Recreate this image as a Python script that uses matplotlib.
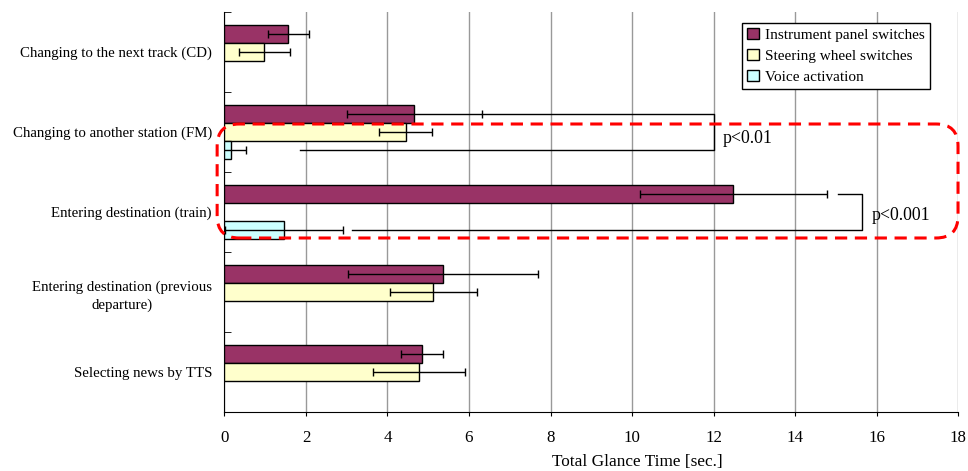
import numpy as np
import matplotlib
matplotlib.use("Agg")
import matplotlib.pyplot as plt
from matplotlib.patches import FancyBboxPatch
from matplotlib.ticker import FixedLocator

plt.rcParams['font.family'] = ['Liberation Serif', 'DejaVu Serif']

# total glance time per task (seconds), mean and error
categories = ["Changing to the next track (CD)",
              "Changing to another station (FM)",
              "Entering destination (train)",
              "Entering destination (previous\ndeparture)",
              "Selecting news by TTS"]
instrument = [1.57, 4.66, 12.49, 5.37, 4.84]
instrument_err = [0.50, 1.65, 2.29, 2.33, 0.51]
steering = [0.98, 4.45, np.nan, 5.12, 4.78]
steering_err = [0.63, 0.65, np.nan, 1.07, 1.13]
voice = [np.nan, 0.16, 1.46, np.nan, np.nan]
voice_err = [np.nan, 0.36, 1.45, np.nan, np.nan]
xticks = [0, 2, 4, 6, 8, 10, 12, 14, 16, 18]

# significance brackets: category, top start, bottom start, bracket x, label, label shift
brackets = [(1, 6.31, 1.86, 12.0, "p<0.01", -0.08),
            (2, 15.06, 3.13, 15.65, "p<0.001", -0.05)]

series = [("Instrument panel switches", instrument, instrument_err, "#993366", 0.225),
          ("Steering wheel switches", steering, steering_err, "#FFFFCC", 0.0),
          ("Voice activation", voice, voice_err, "#CCFFFF", -0.225)]

fig = plt.figure(figsize=(9.68, 4.71), dpi=100)
ax = fig.add_axes([0.2319, 0.1253, 0.7578, 0.8492])

n = len(categories)
ypos = np.arange(n)[::-1].astype(float)   # first category on top
h = 0.225

for label, vals, errs, col, off in series:
    vals = np.array(vals, dtype=float)
    errs = np.array(errs, dtype=float)
    m = ~np.isnan(vals)
    ax.barh(ypos[m] + off, vals[m], height=h, color=col, edgecolor='black',
            linewidth=1, label=label, zorder=3)
    ax.errorbar(vals[m], ypos[m] + off, xerr=errs[m], fmt='none', ecolor='black',
                elinewidth=1, capsize=3, capthick=1, zorder=4)

off_top, off_bot = 0.225, -0.225
for ci, x_top, x_bot, x_br, txt, dy in brackets:
    yt = ypos[ci] + off_top
    yb = ypos[ci] + off_bot
    ax.plot([x_top, x_br, x_br, x_bot], [yt, yt, yb, yb], color='black',
            linewidth=1, zorder=4, clip_on=False)
    ax.text(x_br + 0.23, (yt + yb) / 2 + dy, txt, fontsize=12.8, va='center', ha='left')

ax.set_xlim(0, 18)
ax.set_ylim(-0.5, n - 0.5)
ax.set_xticks(xticks)
ax.set_xticklabels([str(t) for t in xticks], fontsize=12.2)
ax.tick_params(axis='x', direction='out', length=3, pad=10)
ax.set_yticks(ypos)
ax.set_yticklabels(categories, fontsize=10.7, multialignment='center', linespacing=1.5)
ax.tick_params(axis='y', which='major', length=0, pad=9)
ax.yaxis.set_minor_locator(FixedLocator(np.arange(-0.5, n, 1.0)))
ax.tick_params(axis='y', which='minor', direction='in', length=5)
ax.set_xlabel("Total Glance Time [sec.]", fontsize=12.4, va='center')
ax.xaxis.set_label_coords(0.563, -0.125)

ax.grid(axis='x', color='#999999', linewidth=1, zorder=0)
ax.set_axisbelow(True)
for s in ['top', 'right']:
    ax.spines[s].set_visible(False)

leg = ax.legend(loc='upper right', bbox_to_anchor=(0.962, 0.973), fontsize=11,
                frameon=True, fancybox=False, framealpha=1, edgecolor='black',
                handlelength=0.75, handleheight=0.75, handletextpad=0.4,
                labelspacing=0.45, borderpad=0.35, borderaxespad=0)
leg.get_frame().set_linewidth(1)

# dashed rounded frame around the two significant tasks
fig.canvas.draw()
x0, y0 = ax.transData.transform((-0.18, 1.675))
x1, y1 = ax.transData.transform((18.0, 3.1))
box = FancyBboxPatch((x0, y0), x1 - x0, y1 - y0,
                     boxstyle="round,pad=0,rounding_size=22",
                     fill=False, edgecolor='red', linewidth=2.2,
                     linestyle=(0, (4, 2.5)), transform=None, zorder=10,
                     clip_on=False)
fig.patches.append(box)

fig.savefig("out.png", dpi=100)
